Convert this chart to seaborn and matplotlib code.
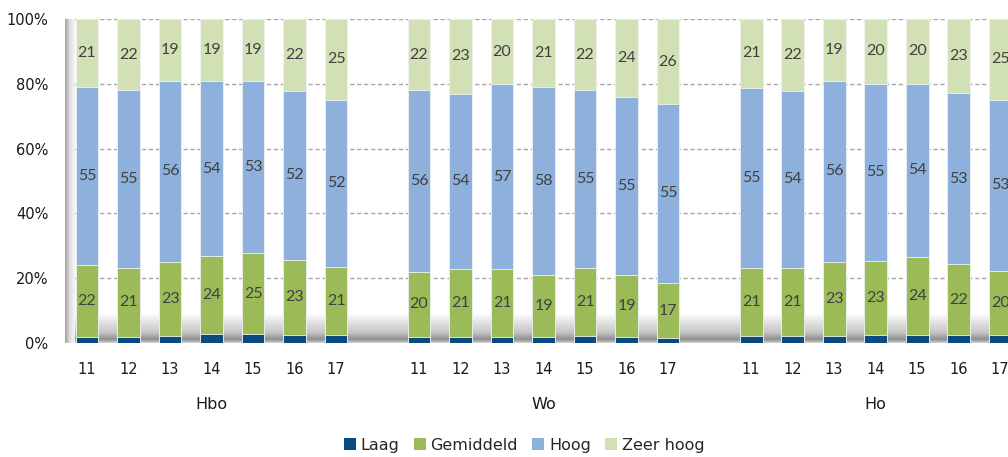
import numpy as np
import pandas as pd
import seaborn as sns
import matplotlib.pyplot as plt
from matplotlib.colors import LinearSegmentedColormap
from matplotlib.patches import Patch

groups = ["Hbo", "Wo", "Ho"]
years = ["11", "12", "13", "14", "15", "16", "17"]
categories = ["Laag", "Gemiddeld", "Hoog", "Zeer hoog"]

# per group, years 11..17
laag = [2.0, 2.0, 2.2, 2.7, 2.7, 2.6, 2.6,
        2.0, 1.8, 1.8, 1.8, 2.1, 1.8, 1.4,
        2.0, 2.0, 2.2, 2.6, 2.6, 2.4, 2.4]
gemiddeld = [22, 21, 23, 24, 25, 23, 21,
             20, 21, 21, 19, 21, 19, 17,
             21, 21, 23, 23, 24, 22, 20]
hoog = [55, 55, 56, 54, 53, 52, 52,
        56, 54, 57, 58, 55, 55, 55,
        55, 54, 56, 55, 54, 53, 53]
zeer_hoog = [21, 22, 19, 19, 19, 22, 25,
             22, 23, 20, 21, 22, 24, 26,
             21, 22, 19, 20, 20, 23, 25]

colors = ["#0B4A7E", "#9BBB59", "#8EB0DC", "#D2E0B6"]

rows = []
for gi, g in enumerate(groups):
    for yi, yr in enumerate(years):
        k = gi * len(years) + yi
        rows.append({"group": g, "year": yr, "pos": gi * 8 + yi,
                     "Laag": laag[k], "Gemiddeld": gemiddeld[k],
                     "Hoog": hoog[k], "Zeer hoog": zeer_hoog[k]})
df = pd.DataFrame(rows)

# 100% stacked: normalise and accumulate
shares = df[categories].div(df[categories].sum(axis=1), axis=0) * 100
cum = shares.cumsum(axis=1)
for cat in categories:
    df["cum_" + cat] = cum[cat]

sns.set_theme(style="white")
plt.rcParams["font.family"] = ["DejaVu Sans"]

fig = plt.figure(figsize=(10.08, 4.57), dpi=100)
ax = fig.add_axes([0.0645, 0.2495, 1 - 0.0645, 0.7086])

xmin, xmax = -0.53, 22.19

# fake 3D floor shadow and left wall
floor_cmap = LinearSegmentedColormap.from_list(
    "floor", [(0, "#d4d4d4"), (0.12, "#8f8f8f"), (0.35, "#c4c4c4"), (1, "#ffffff")])
grad = np.linspace(0, 1, 200).reshape(-1, 1)
ax.imshow(grad, cmap=floor_cmap, origin="lower", aspect="auto",
          extent=(xmin, xmax, 0, 9), zorder=0.5)
wall_cmap = LinearSegmentedColormap.from_list("wall", ["#a0a0a0", "#e0e0e0", "#f4f4f4"])
ax.imshow(np.linspace(0, 1, 50).reshape(1, -1), cmap=wall_cmap, aspect="auto",
          extent=(xmin, xmin + 0.24, 0, 100), zorder=0.6)

# dashed grid
for yv in range(0, 101, 20):
    ax.axhline(yv, color="#a6a6a6", lw=1.0, ls=(0, (3, 2)), zorder=0.4)

# stacked bars, drawn from the top segment down
for cat, col in reversed(list(zip(categories, colors))):
    sns.barplot(data=df, x="pos", y="cum_" + cat, native_scale=True,
                color=col, saturation=1, width=0.55, errorbar=None,
                edgecolor="#f2f2f2", linewidth=0.6, zorder=3, ax=ax)

# segment labels
for cat in categories[1:]:
    mids = df["cum_" + cat] - shares[cat] / 2
    for x, yv, val in zip(df["pos"], mids, df[cat]):
        ax.text(x, yv, f"{val:d}", ha="center", va="center", family="Lato",
                fontsize=11.5, color="#404040", zorder=4)

ax.set_xlim(xmin, xmax)
ax.set_ylim(0, 100)
ax.set_xticks(df["pos"])
ax.set_xticklabels(df["year"])
ax.set_yticks(range(0, 101, 20))
ax.set_yticklabels([f"{v}%" for v in range(0, 101, 20)])
ax.tick_params(axis="x", length=0, pad=14, labelsize=10.5, labelcolor="#1a1a1a")
ax.tick_params(axis="y", length=0, pad=12, labelsize=10.5, labelcolor="#1a1a1a")
ax.set_xlabel("")
ax.set_ylabel("")
for s in ax.spines.values():
    s.set_visible(False)

for gi, g in enumerate(groups):
    ax.text(gi * 8 + 3, -0.19, g, transform=ax.get_xaxis_transform(),
            ha="center", va="center", fontsize=11.5, color="#1a1a1a")

handles = [Patch(facecolor=c, edgecolor="none") for c in colors]
fig.legend(handles, categories, loc="center", bbox_to_anchor=(0.52, 0.026),
           ncol=4, frameon=False, fontsize=11.5, handlelength=0.75,
           handleheight=0.75, handletextpad=0.3, columnspacing=0.9)

fig.savefig("out.png", dpi=100)
plt.close(fig)
